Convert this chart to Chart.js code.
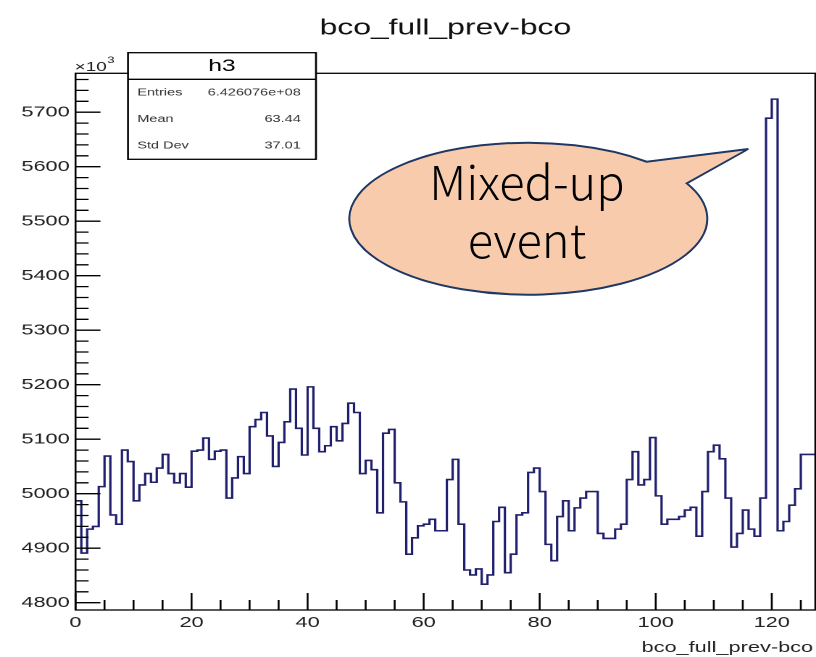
<!DOCTYPE html>
<html>
<head>
<meta charset="utf-8">
<script src="https://cdn.jsdelivr.net/npm/chart.js@4.4.0/dist/chart.umd.min.js"></script>
<style>
  html, body { margin: 0; padding: 0; background: #fff; overflow: hidden; }
  #wrap { position: relative; width: 816px; height: 657px; }
  /* the ROOT picture is stretched sideways in the slide, so stretch the canvas too */
  #chart { position: absolute; left: 0; top: 0; transform-origin: 0 0; transform: scaleX(1.4494); }
  #bubble { position: absolute; left: 0; top: 0; }
</style>
</head>
<body>
<div id="wrap">
  <canvas id="chart" width="563" height="657"></canvas>
  <svg id="bubble" width="816" height="657" xmlns="http://www.w3.org/2000/svg">
    <path d="M 686.7 183.3 A 179 76 0 1 1 646.7 161.7 L 748.3 149 Z"
          fill="#f8cbad" stroke="#1f3864" stroke-width="2"/>
    <text x="527" y="200" text-anchor="middle" font-family="Noto Sans CJK JP, Noto Sans" font-weight="300" font-size="47" fill="#000">Mixed-up</text>
    <text x="527" y="258" text-anchor="middle" font-family="Noto Sans CJK JP, Noto Sans" font-weight="300" font-size="47" fill="#000">event</text>
  </svg>
</div>
<script>
// bin contents (x10^3), bins of width 1 starting at 0
const binValues = [
  4987, 4891, 4935, 4940, 5013, 5069, 4961, 4944, 5080, 5059,
  4987, 5016, 5037, 5021, 5047, 5072, 5037, 5020, 5037, 5012,
  5078, 5080, 5102, 5063, 5078, 5080, 4992, 5029, 5068, 5037,
  5123, 5136, 5149, 5106, 5050, 5094, 5132, 5192, 5120, 5071,
  5196, 5120, 5077, 5088, 5123, 5097, 5129, 5166, 5149, 5037,
  5061, 5044, 4965, 5111, 5118, 5020, 4985, 4889, 4919, 4941,
  4944, 4953, 4932, 4932, 5026, 5063, 4944, 4860, 4851, 4862,
  4834, 4851, 4949, 4975, 4855, 4889, 4961, 4965, 5039, 5047,
  5004, 4907, 4877, 4958, 4987, 4932, 4974, 4992, 5004, 5004,
  4927, 4918, 4918, 4935, 4944, 5026, 5077, 5016, 5026, 5103,
  4996, 4944, 4953, 4953, 4958, 4970, 4975, 4922, 5004, 5077,
  5089, 5064, 4992, 4902, 4927, 4970, 4935, 4922, 4992, 5689,
  5724, 4932, 4949, 4979, 5009, 5072, 5072, 5072
];
const xTicks = [0, 20, 40, 60, 80, 100, 120];
const yTicks = [4800, 4900, 5000, 5100, 5200, 5300, 5400, 5500, 5600, 5700];
const statLabels = ['Entries', 'Mean', 'Std Dev'];
const statValues = ['6.426076e+08', '63.44', '37.01'];

// left edge of every bin, plus the closing edge
const points = binValues.map((v, i) => ({ x: i, y: v }));
points.push({ x: binValues.length, y: binValues[binValues.length - 1] });

// frame, inward ticks, stats box and axis texts like a ROOT canvas
const rootFrame = {
  id: 'rootFrame',
  afterDraw(chart) {
    const { ctx, chartArea: a, scales: { x, y } } = chart;
    ctx.save();
    ctx.strokeStyle = '#000';
    ctx.lineWidth = 1.3;
    ctx.strokeRect(a.left, a.top, a.right - a.left, a.bottom - a.top);

    ctx.beginPath();
    for (let v = 0; v <= x.max; v += 5) {
      const px = x.getPixelForValue(v);
      const len = v % 20 === 0 ? 17 : 10;
      ctx.moveTo(px, a.bottom);
      ctx.lineTo(px, a.bottom - len);
    }
    for (let v = 4800; v <= y.max; v += 20) {
      const py = y.getPixelForValue(v);
      const len = v % 100 === 0 ? 17.2 : 9;
      ctx.moveTo(a.left, py);
      ctx.lineTo(a.left + len, py);
    }
    ctx.stroke();

    // x10^3
    ctx.fillStyle = '#222';
    ctx.textAlign = 'left';
    ctx.textBaseline = 'alphabetic';
    ctx.font = '13px Arial';
    ctx.fillText('\u00d710', 51.5, 71);
    const w = ctx.measureText('\u00d710').width;
    ctx.font = '9px Arial';
    ctx.fillText('3', 51.5 + w + 0.5, 63);

    // axis title
    ctx.font = '15px Arial';
    ctx.textAlign = 'right';
    ctx.fillText('bco_full_prev-bco', 561, 652);

    // stats box
    const bl = 88.3, br = 218, bt = 52.7, bs = 79.3, bb = 159.3;
    ctx.fillStyle = '#fff';
    ctx.fillRect(bl, bt, br - bl, bb - bt);
    ctx.lineWidth = 1.3;
    ctx.strokeRect(bl, bt, br - bl, bb - bt);
    ctx.beginPath();
    ctx.moveTo(bl, bs);
    ctx.lineTo(br, bs);
    ctx.stroke();
    ctx.fillStyle = '#000';
    ctx.font = '17px Arial';
    ctx.textAlign = 'center';
    ctx.textBaseline = 'middle';
    ctx.fillText('h3', (bl + br) / 2, 66.5);
    ctx.font = '10px Arial';
    ctx.fillStyle = '#333';
    const rowH = (bb - bs) / statLabels.length;
    statLabels.forEach((lab, i) => {
      const ry = bs + rowH * (i + 0.5);
      ctx.textAlign = 'left';
      ctx.fillText(lab, 94.7, ry);
      ctx.textAlign = 'right';
      ctx.fillText(statValues[i], 207.5, ry);
    });
    ctx.restore();
  }
};

const chart = new Chart(document.getElementById('chart'), {
  type: 'line',
  data: {
    datasets: [{
      label: 'h3',
      data: points,
      stepped: true,
      borderColor: '#1f1f6e',
      borderWidth: 1.6,
      pointRadius: 0,
      fill: false
    }]
  },
  plugins: [rootFrame],
  options: {
    responsive: false,
    devicePixelRatio: 2,
    animation: false,
    layout: { padding: { left: 0, right: 0.5, top: 0, bottom: 0 } },
    scales: {
      x: {
        type: 'linear',
        min: 0,
        max: 127.5,
        grid: { display: false, drawTicks: false },
        border: { display: false },
        afterBuildTicks: s => { s.ticks = xTicks.map(v => ({ value: v })); },
        afterFit: s => { s.height = 47; },
        ticks: { font: { family: 'Arial', size: 15 }, color: '#222', padding: 4, maxRotation: 0 }
      },
      y: {
        min: 4786.6,
        max: 5771.4,
        grid: { display: false, drawTicks: false },
        border: { display: false },
        afterBuildTicks: s => { s.ticks = yTicks.map(v => ({ value: v })); },
        afterFit: s => { s.width = 52.1; },
        ticks: { font: { family: 'Arial', size: 15 }, color: '#222', padding: 4, callback: v => String(v) }
      }
    },
    plugins: {
      legend: { display: false },
      tooltip: { enabled: false },
      title: {
        display: true,
        fullSize: false,
        text: 'bco_full_prev-bco',
        color: '#111',
        font: { family: 'Arial', size: 22, weight: 'normal' },
        padding: { top: 15, bottom: 31.9 }
      }
    }
  }
});
</script>
</body>
</html>
